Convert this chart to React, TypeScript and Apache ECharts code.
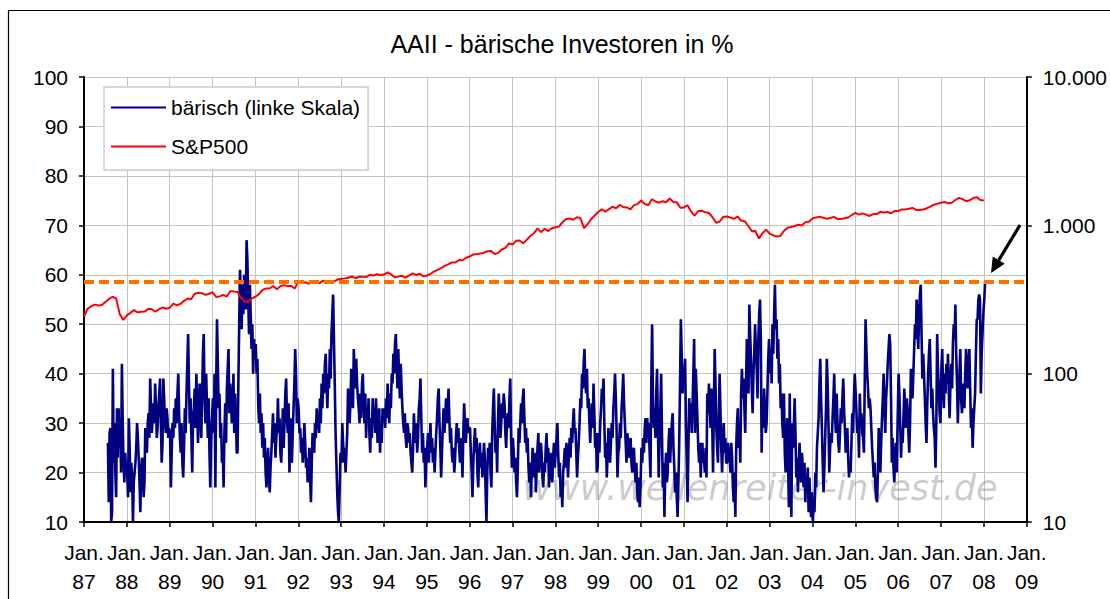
import React, { useEffect, useRef } from "react";
import * as echarts from "echarts";

// ---------- Data ----------
const titleText = "AAII - bärische Investoren in %";
const bearishName = "bärisch (linke Skala)";
const spxName = "S&P500";
const thresholdLevel = 58.6;

const leftTicks = [10, 20, 30, 40, 50, 60, 70, 80, 90, 100];
const rightTicks = [10, 100, 1000, 10000];
const yearTicks = [1987, 2009];

// AAII bearish % (weekly), per year
const bearish1987 = [26, 14, 28, 29, 10, 12, 41, 22, 30, 20, 15, 33, 23, 33, 25, 30, 20, 42, 30, 22, 18, 24, 21];
const bearish1988 = [20, 15, 31, 25, 16, 22, 19, 10, 18, 20, 22, 25, 30, 27, 23, 18, 12, 20, 23, 22, 15, 18, 29, 26, 24, 30, 32, 27, 39, 33, 28, 31, 34, 30, 38, 34, 27, 29, 33, 36, 39, 30, 22, 26, 39, 35, 30, 28, 33, 31, 27, 29];
const bearish1989 = [28, 17, 24, 30, 27, 33, 29, 35, 30, 36, 40, 32, 27, 24, 30, 22, 19, 25, 33, 28, 36, 42, 48, 38, 30, 35, 27, 20, 31, 33, 37, 29, 40, 34, 26, 31, 38, 33, 27, 35, 44, 48, 36, 30, 40, 33, 27, 35, 24, 17, 26, 31];
const bearish1990 = [35, 28, 40, 17, 38, 51, 42, 33, 36, 27, 30, 22, 25, 17, 28, 34, 26, 37, 41, 45, 32, 38, 35, 30, 34, 40, 28, 36, 31, 24, 24, 38, 50, 61, 55, 49, 58, 52, 60, 57, 53, 67, 63, 55, 48, 58, 52, 45, 50, 40, 47, 44];
const bearish1991 = [46, 40, 43, 34, 30, 36, 28, 32, 25, 30, 23, 27, 20, 17, 22, 25, 19, 16, 21, 24, 28, 32, 26, 30, 23, 27, 29, 35, 28, 31, 24, 22, 27, 33, 25, 30, 36, 39, 31, 28, 34, 20, 26, 31, 22, 28, 33, 38, 45, 40, 30, 35];
const bearish1992 = [33, 28, 29, 24, 27, 22, 25, 30, 26, 21, 23, 18, 20, 25, 19, 14, 22, 28, 26, 24, 30, 27, 33, 29, 31, 28, 35, 30, 38, 33, 40, 36, 42, 44, 38, 33, 40, 37, 45, 39, 48, 52, 56, 47, 38, 28, 22, 16, 12, 10, 17, 24];
const bearish1993 = [22, 30, 26, 22, 25, 20, 24, 28, 37, 33, 30, 35, 41, 38, 33, 45, 40, 37, 43, 38, 35, 33, 30, 36, 31, 38, 40, 34, 30, 36, 27, 33, 30, 35, 28, 24, 31, 27, 35, 30, 33, 28, 35, 31, 26, 29, 33, 24, 30, 26, 33, 31];
const bearish1994 = [33, 29, 35, 31, 38, 34, 30, 36, 33, 40, 38, 44, 40, 46, 48, 42, 37, 45, 39, 35, 42, 37, 33, 30, 28, 32, 27, 25, 30, 29, 26, 28, 24, 22, 20, 25, 32, 28, 26, 30, 24, 27, 33, 35, 39, 31, 24, 28, 22, 25, 17, 22];
const bearish1995 = [25, 28, 22, 26, 30, 24, 27, 22, 25, 20, 24, 28, 31, 35, 37, 30, 25, 19, 24, 29, 33, 28, 31, 35, 30, 33, 37, 31, 26, 29, 24, 22, 25, 20, 23, 27, 30, 26, 29, 25, 22, 27, 24, 19, 28, 34, 30, 26, 29, 31, 28, 29];
const bearish1996 = [29, 24, 20, 15, 22, 26, 29, 24, 27, 20, 17, 23, 26, 21, 24, 19, 22, 26, 23, 16, 10, 20, 25, 22, 26, 20, 17, 28, 33, 37, 30, 24, 27, 20, 30, 36, 32, 27, 30, 34, 31, 36, 34, 28, 25, 30, 32, 29, 35, 39, 27, 21];
const bearish1997 = [27, 24, 20, 23, 18, 15, 21, 29, 26, 30, 34, 30, 35, 37, 31, 26, 29, 24, 27, 21, 18, 22, 15, 20, 25, 22, 19, 24, 16, 21, 25, 28, 20, 23, 26, 24, 19, 17, 22, 20, 25, 28, 22, 25, 17, 21, 24, 20, 18, 23, 26, 21];
const bearish1998 = [24, 27, 30, 24, 19, 22, 15, 18, 13, 20, 22, 25, 21, 26, 23, 19, 24, 27, 23, 29, 26, 30, 33, 28, 29, 24, 19, 23, 26, 30, 35, 33, 40, 37, 42, 45, 38, 36, 41, 33, 35, 30, 26, 31, 34, 29, 38, 32, 25, 28, 20, 21];
const bearish1999 = [28, 24, 30, 33, 37, 35, 39, 30, 23, 26, 19, 24, 29, 26, 22, 26, 30, 27, 33, 36, 40, 35, 28, 19, 24, 25, 30, 27, 33, 36, 40, 34, 30, 26, 22, 28, 26, 23, 24, 27, 22, 20, 24, 25, 21, 18, 22, 16, 14, 19, 13, 17];
const bearish2000 = [25, 22, 27, 24, 29, 31, 26, 31, 28, 30, 24, 19, 38, 50, 35, 29, 33, 27, 36, 41, 30, 19, 26, 33, 40, 28, 17, 22, 11, 20, 24, 18, 20, 26, 29, 22, 27, 30, 32, 25, 21, 16, 20, 15, 11, 18, 26, 38, 51, 44, 36, 40];
const bearish2001 = [40, 43, 30, 22, 14, 25, 35, 30, 34, 28, 33, 40, 47, 28, 41, 36, 31, 25, 22, 26, 19, 24, 26, 22, 23, 20, 25, 19, 36, 32, 38, 33, 29, 37, 30, 20, 33, 45, 38, 29, 25, 22, 31, 40, 33, 25, 20, 26, 30, 24, 27, 22];
const bearish2002 = [22, 26, 24, 23, 20, 26, 23, 17, 14, 20, 11, 25, 30, 33, 25, 29, 22, 36, 41, 35, 39, 33, 28, 38, 47, 42, 36, 54, 48, 43, 37, 32, 40, 44, 50, 45, 41, 35, 47, 52, 55, 47, 24, 35, 29, 37, 33, 28, 30, 36, 43, 47];
const bearish2003 = [40, 45, 38, 50, 44, 52, 58, 49, 51, 43, 47, 38, 42, 33, 36, 30, 27, 36, 24, 20, 26, 31, 22, 13, 36, 20, 11, 30, 25, 29, 35, 28, 19, 23, 16, 22, 26, 20, 18, 24, 20, 17, 22, 14, 19, 17, 21, 12, 19, 14, 11, 16];
const bearish2004 = [10, 14, 12, 20, 17, 25, 28, 31, 38, 43, 35, 29, 22, 16, 21, 27, 33, 43, 38, 30, 20, 25, 28, 26, 31, 35, 40, 32, 28, 36, 30, 26, 24, 28, 33, 30, 35, 39, 33, 29, 24, 27, 29, 23, 19, 22, 20, 26, 32, 28, 35, 40];
const bearish2005 = [36, 32, 28, 30, 23, 36, 30, 32, 28, 27, 24, 38, 51, 45, 40, 37, 33, 35, 33, 29, 25, 22, 19, 22, 17, 15, 14, 20, 29, 24, 20, 26, 31, 35, 40, 33, 28, 35, 38, 42, 45, 48, 46, 35, 22, 27, 21, 18, 24, 26, 20, 30];
const bearish2006 = [40, 36, 30, 23, 28, 26, 31, 37, 33, 29, 35, 33, 28, 24, 30, 41, 37, 35, 40, 45, 50, 47, 55, 49, 45, 52, 56, 58, 48, 39, 44, 40, 35, 30, 26, 34, 40, 44, 47, 40, 33, 37, 32, 29, 27, 21, 30, 48, 41, 37, 32, 30];
const bearish2007 = [41, 45, 37, 33, 40, 36, 42, 38, 44, 36, 31, 38, 42, 37, 46, 50, 47, 54, 44, 38, 30, 36, 40, 45, 35, 32, 36, 38, 33, 40, 45, 42, 37, 41, 45, 37, 29, 33, 25, 30, 33, 36, 44, 51, 51, 55, 56, 55, 36, 44, 48, 52];
const bearish2008 = [55, 58.6];

const bearishByYear: [number, number, number[]][] = [
  [1987, 204, bearish1987], [1988, 3, bearish1988], [1989, 3, bearish1989], [1990, 3, bearish1990],
  [1991, 3, bearish1991], [1992, 3, bearish1992], [1993, 3, bearish1993], [1994, 3, bearish1994],
  [1995, 3, bearish1995], [1996, 3, bearish1996], [1997, 3, bearish1997], [1998, 3, bearish1998],
  [1999, 3, bearish1999], [2000, 3, bearish2000], [2001, 3, bearish2001], [2002, 3, bearish2002],
  [2003, 3, bearish2003], [2004, 3, bearish2004], [2005, 3, bearish2005], [2006, 3, bearish2006],
  [2007, 3, bearish2007], [2008, 3, bearish2008],
];

// S&P 500 month-end closes
const spxStart = 242;
const spx1987 = [274, 284, 292, 288, 290, 304, 319, 330, 322, 252, 230, 247];
const spx1988 = [257, 268, 259, 261, 262, 274, 272, 262, 272, 279, 274, 278];
const spx1989 = [297, 289, 295, 310, 321, 318, 346, 351, 349, 340, 346, 353];
const spx1990 = [329, 332, 340, 331, 361, 358, 356, 323, 306, 304, 322, 330];
const spx1991 = [344, 367, 375, 375, 390, 371, 388, 395, 388, 392, 375, 417];
const spx1992 = [409, 413, 404, 415, 415, 408, 424, 414, 418, 419, 431, 436];
const spx1993 = [439, 443, 452, 440, 450, 451, 448, 464, 459, 468, 462, 466];
const spx1994 = [482, 467, 446, 451, 457, 444, 458, 475, 463, 472, 454, 459];
const spx1995 = [470, 487, 501, 515, 533, 545, 562, 562, 584, 582, 605, 616];
const spx1996 = [636, 640, 646, 654, 669, 671, 640, 652, 687, 705, 757, 741];
const spx1997 = [786, 791, 757, 801, 848, 885, 954, 899, 947, 915, 955, 970];
const spx1998 = [980, 1049, 1102, 1112, 1091, 1134, 1121, 957, 1017, 1099, 1164, 1229];
const spx1999 = [1280, 1238, 1286, 1335, 1302, 1373, 1329, 1320, 1283, 1363, 1389, 1469];
const spx2000 = [1394, 1366, 1499, 1452, 1421, 1455, 1431, 1518, 1437, 1429, 1315, 1320];
const spx2001 = [1366, 1240, 1160, 1249, 1256, 1224, 1211, 1134, 1041, 1060, 1139, 1148];
const spx2002 = [1130, 1107, 1147, 1077, 1067, 990, 912, 916, 815, 886, 936, 880];
const spx2003 = [856, 841, 848, 917, 964, 975, 990, 1008, 996, 1051, 1058, 1112];
const spx2004 = [1131, 1145, 1126, 1107, 1121, 1141, 1102, 1104, 1115, 1130, 1174, 1212];
const spx2005 = [1181, 1204, 1181, 1157, 1192, 1191, 1234, 1220, 1229, 1207, 1249, 1248];
const spx2006 = [1280, 1281, 1295, 1311, 1270, 1270, 1277, 1304, 1336, 1378, 1401, 1418];
const spx2007 = [1438, 1407, 1421, 1482, 1531, 1503, 1455, 1474, 1527, 1549, 1481, 1468];

const spxByYear: [number, number[]][] = [
  [1987, spx1987], [1988, spx1988], [1989, spx1989], [1990, spx1990], [1991, spx1991],
  [1992, spx1992], [1993, spx1993], [1994, spx1994], [1995, spx1995], [1996, spx1996],
  [1997, spx1997], [1998, spx1998], [1999, spx1999], [2000, spx2000], [2001, spx2001],
  [2002, spx2002], [2003, spx2003], [2004, spx2004], [2005, spx2005], [2006, spx2006],
  [2007, spx2007],
];

const watermarkText = "www.wellenreiter-invest.de";

// ---------- Build series data (x = fractional year) ----------
function buildBearish(): [number, number][] {
  const out: [number, number][] = [];
  for (const [year, startDay, values] of bearishByYear) {
    values.forEach((v, k) => out.push([year + (startDay + 7 * k) / 365.25, v]));
  }
  return out;
}

function buildSpx(): [number, number][] {
  const out: [number, number][] = [[spxByYear[0][0], spxStart]];
  for (const [year, values] of spxByYear) {
    values.forEach((v, m) => out.push([year + (m + 1) / 12, v]));
  }
  return out;
}

const FONT = '"Liberation Sans", Arial, sans-serif';

function fmtDe(v: number): string {
  return v >= 1000 ? `${Math.round(v / 1000)}.000` : String(v);
}

export default function App() {
  const ref = useRef<HTMLDivElement>(null);

  useEffect(() => {
    if (!ref.current) return;
    const chart = echarts.init(ref.current, null, { renderer: "svg" });

    // arrow annotation geometry
    const tail = [1020, 225];
    const tip = [991, 273];
    const dx = tip[0] - tail[0];
    const dy = tip[1] - tail[1];
    const len = Math.hypot(dx, dy);
    const ux = dx / len;
    const uy = dy / len;
    const headLen = 15;
    const headHalf = 7;
    const bx = tip[0] - headLen * ux;
    const by = tip[1] - headLen * uy;
    const px = -uy;
    const py = ux;

    const option: any = {
      animation: false,
      backgroundColor: "#ffffff",
      grid: { left: 84, top: 77, width: 945, height: 445, containLabel: false },
      legend: {
        orient: "vertical",
        left: 104,
        top: 87,
        itemWidth: 55,
        itemHeight: 2,
        icon: "rect",
        itemGap: 18,
        padding: [10, 8, 13, 7],
        borderColor: "#cccccc",
        borderWidth: 1.5,
        backgroundColor: "#ffffff",
        textStyle: { fontFamily: FONT, fontSize: 21, color: "#000", lineHeight: 20 },
        data: [bearishName, spxName],
        z: 10,
      },
      xAxis: {
        type: "value",
        min: yearTicks[0],
        max: yearTicks[1],
        interval: 1,
        axisLine: { show: true, onZero: false, lineStyle: { color: "#000", width: 2 } },
        axisTick: { show: true, length: 5, lineStyle: { color: "#000", width: 1.5 } },
        axisLabel: {
          fontFamily: FONT,
          fontSize: 21,
          color: "#000",
          lineHeight: 29,
          margin: 16,
          formatter: (v: number) => `Jan.\n${String(v % 100).padStart(2, "0")}`,
        },
        splitLine: { show: true, lineStyle: { color: "#c4c4c4", width: 1 } },
      },
      yAxis: [
        {
          type: "value",
          min: leftTicks[0],
          max: leftTicks[leftTicks.length - 1],
          interval: 10,
          position: "left",
          axisLine: { show: true, onZero: false, lineStyle: { color: "#000", width: 2 } },
          axisTick: { show: true, length: 5, lineStyle: { color: "#000", width: 1.5 } },
          axisLabel: { fontFamily: FONT, fontSize: 21, color: "#000", margin: 16 },
          splitLine: { show: true, lineStyle: { color: "#c4c4c4", width: 1 } },
        },
        {
          type: "log",
          logBase: 10,
          min: rightTicks[0],
          max: rightTicks[rightTicks.length - 1],
          position: "right",
          axisLine: { show: true, onZero: false, lineStyle: { color: "#000", width: 2 } },
          axisTick: { show: true, length: 5, lineStyle: { color: "#000", width: 1.5 } },
          axisLabel: { fontFamily: FONT, fontSize: 21, color: "#000", margin: 16, formatter: (v: number) => fmtDe(v) },
          splitLine: { show: false },
          minorTick: { show: false },
        },
      ],
      graphic: [
        {
          type: "rect",
          shape: { x: 8.5, y: 10.5, width: 1300, height: 800 },
          style: { fill: "none", stroke: "#000", lineWidth: 1.2 },
          silent: true,
          z: 0,
        },
        {
          type: "text",
          x: 562,
          y: 44,
          style: {
            text: titleText,
            font: `25px ${FONT}`,
            fill: "#000",
            textAlign: "center",
            textVerticalAlign: "middle",
          },
          z: 5,
        },
        {
          type: "text",
          x: 760,
          y: 488,
          style: {
            text: watermarkText,
            font: `italic 35px "DejaVu Sans", sans-serif`,
            fill: "rgba(140,140,140,0.45)",
            textAlign: "center",
            textVerticalAlign: "middle",
          },
          silent: true,
          z: 1,
        },
        {
          type: "line",
          shape: { x1: tail[0], y1: tail[1], x2: bx, y2: by },
          style: { stroke: "#000", lineWidth: 3.2 },
          z: 20,
        },
        {
          type: "polygon",
          shape: {
            points: [
              [tip[0], tip[1]],
              [bx + headHalf * px, by + headHalf * py],
              [bx - headHalf * px, by - headHalf * py],
            ],
          },
          style: { fill: "#000" },
          z: 20,
        },
      ],
      series: [
        {
          name: bearishName,
          type: "line",
          yAxisIndex: 0,
          data: buildBearish(),
          showSymbol: false,
          symbol: "none",
          color: "#000080",
          itemStyle: { color: "#000080" },
          lineStyle: { color: "#000080", width: 2.6 },
          z: 3,
          markLine: {
            silent: true,
            symbol: ["none", "none"],
            label: { show: false },
            lineStyle: { color: "#ff6f00", width: 4, type: [10, 5] },
            data: [{ yAxis: thresholdLevel }],
            z: 4,
          },
        },
        {
          name: spxName,
          type: "line",
          yAxisIndex: 1,
          data: buildSpx(),
          showSymbol: false,
          symbol: "none",
          color: "#ff0000",
          itemStyle: { color: "#ff0000" },
          lineStyle: { color: "#ff0000", width: 2 },
          z: 3,
        },
      ],
    };

    chart.setOption(option);
    return () => chart.dispose();
  }, []);

  return (
    <div
      ref={ref}
      style={{ position: "absolute", left: 0, top: 0, width: 1110, height: 599 }}
    />
  );
}
